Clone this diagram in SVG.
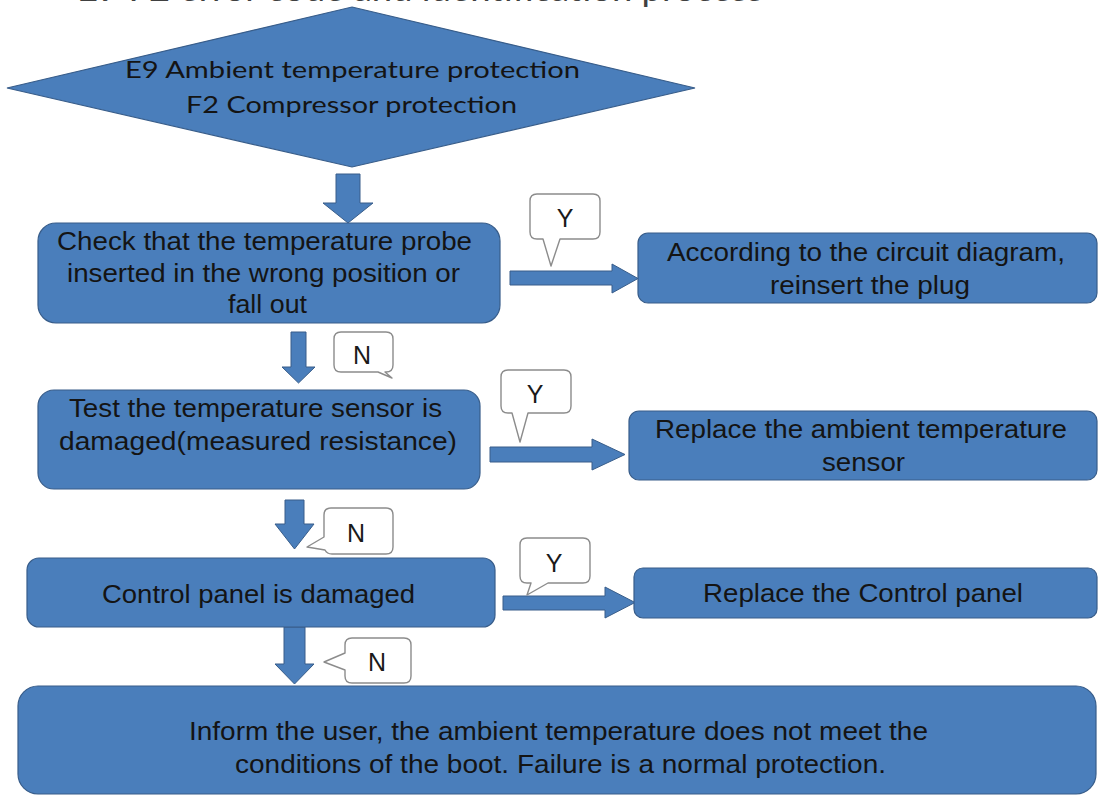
<svg xmlns="http://www.w3.org/2000/svg" width="1098" height="796" viewBox="0 0 1098 796">
  <style>
    .shape { fill: #4a7ebb; stroke: #385d8a; stroke-width: 1.2; }
    .arrow { fill: #4a7ebb; stroke: #385d8a; stroke-width: 1; }
    .bubble { fill: #ffffff; stroke: #8c8c8c; stroke-width: 1.4; stroke-linejoin: round; }
    .lbl { font-family: "Liberation Sans", Arial, sans-serif; font-size: 25px; fill: #141414; }
    .tall { font-family: "Liberation Sans", Arial, sans-serif; font-size: 26px; fill: #141414; }
    .cal { font-family: Lato, "Liberation Sans", sans-serif; font-size: 24px; fill: #141414; }
    .yn { font-family: "Liberation Sans", Arial, sans-serif; font-size: 25px; fill: #1a1a1a; text-anchor: middle; }
    .title { font-family: Lato, "Liberation Sans", sans-serif; font-size: 32px; fill: #404040; }
  </style>

  <rect width="1098" height="796" fill="#ffffff"/>

  <!-- heading (runs off the top edge) -->
  <text class="title" x="77" y="1" textLength="686" lengthAdjust="spacingAndGlyphs">E9 F2 error code and identification process</text>

  <!-- connectors -->
  <g id="connectors">
    <polygon class="arrow" points="336,174 360,174 360,203 373,203 348,223 323,203 336,203"/>
    <polygon class="arrow" points="291,332 306,332 306,367 315,367 298.5,383 282,367 291,367"/>
    <polygon class="arrow" points="285,500 304,500 304,524 314,524 294.5,549 275,524 285,524"/>
    <polygon class="arrow" points="284,627 305,627 305,664 314,664 294.5,684 275,664 284,664"/>
    <polygon class="arrow" points="510,271 612,271 612,264 638,278.5 612,293 612,285 510,285"/>
    <polygon class="arrow" points="490,447 592,447 592,439 625,454.5 592,470 592,462 490,462"/>
    <polygon class="arrow" points="503,596 605,596 605,587 635,602.5 605,618 605,610 503,610"/>

    <path class="bubble" d="M537,194 H593 Q600,194 600,201 V232 Q600,239 593,239 H560 L551,266 L543,239 H537 Q530,239 530,232 V201 Q530,194 537,194 Z"/>
    <text class="yn" x="565" y="227">Y</text>

    <path class="bubble" d="M341,332 H386 Q393,332 393,339 V365 Q393,372 386,372 H385 L392,378 L378,372 H341 Q334,372 334,365 V339 Q334,332 341,332 Z"/>
    <text class="yn" x="362" y="364">N</text>

    <path class="bubble" d="M508,370 H564 Q571,370 571,377 V406 Q571,413 564,413 H528 L520,442 L512,413 H508 Q501,413 501,406 V377 Q501,370 508,370 Z"/>
    <text class="yn" x="535" y="403">Y</text>

    <path class="bubble" d="M331,508 H386 Q393,508 393,515 V547 Q393,554 386,554 H332 Q327,554 325,550 L307,547 L324,537 V515 Q324,508 331,508 Z"/>
    <text class="yn" x="356" y="542">N</text>

    <path class="bubble" d="M527,538 H583 Q590,538 590,545 V576 Q590,583 583,583 H548 L527,595 L531,583 H527 Q520,583 520,576 V545 Q520,538 527,538 Z"/>
    <text class="yn" x="554" y="572">Y</text>

    <path class="bubble" d="M352,638 H404 Q411,638 411,645 V676 Q411,683 404,683 H352 Q345,683 345,676 V670 L324,662 L345,653 V645 Q345,638 352,638 Z"/>
    <text class="yn" x="377" y="671">N</text>
  </g>

  <!-- start: fault codes -->
  <g id="node-codes">
    <polygon class="shape" points="352,7 695,88 352,167 7,88"/>
    <text class="cal" x="125" y="78" textLength="455" lengthAdjust="spacingAndGlyphs">E9 Ambient temperature protection</text>
    <text class="cal" x="186" y="113" textLength="331" lengthAdjust="spacingAndGlyphs">F2 Compressor protection</text>
  </g>

  <g id="node-probe">
    <rect class="shape" x="38" y="223" width="462" height="100" rx="18"/>
    <text class="lbl" x="57" y="250" textLength="415" lengthAdjust="spacingAndGlyphs">Check that the temperature probe</text>
    <text class="lbl" x="67" y="282" textLength="393" lengthAdjust="spacingAndGlyphs">inserted in the wrong position or</text>
    <text class="lbl" x="228" y="313" textLength="79" lengthAdjust="spacingAndGlyphs">fall out</text>
  </g>

  <g id="node-reinsert">
    <rect class="shape" x="638" y="233" width="459" height="70" rx="10"/>
    <text class="lbl" x="667" y="261" textLength="398" lengthAdjust="spacingAndGlyphs">According to the circuit diagram,</text>
    <text class="lbl" x="770" y="294" textLength="200" lengthAdjust="spacingAndGlyphs">reinsert the plug</text>
  </g>

  <g id="node-sensor-test">
    <rect class="shape" x="38" y="390" width="442" height="99" rx="16"/>
    <text class="tall" x="69" y="417" textLength="373" lengthAdjust="spacingAndGlyphs">Test the temperature sensor is</text>
    <text class="tall" x="59" y="450" textLength="398" lengthAdjust="spacingAndGlyphs">damaged(measured resistance)</text>
  </g>

  <g id="node-replace-sensor">
    <rect class="shape" x="629" y="411" width="468" height="69" rx="10"/>
    <text class="lbl" x="655" y="438" textLength="412" lengthAdjust="spacingAndGlyphs">Replace the ambient temperature</text>
    <text class="lbl" x="822" y="471" textLength="83" lengthAdjust="spacingAndGlyphs">sensor</text>
  </g>

  <g id="node-panel-check">
    <rect class="shape" x="27" y="558" width="468" height="69" rx="12"/>
    <text class="tall" x="102" y="603" textLength="313" lengthAdjust="spacingAndGlyphs">Control panel is damaged</text>
  </g>

  <g id="node-replace-panel">
    <rect class="shape" x="634" y="568" width="463" height="50" rx="9"/>
    <text class="lbl" x="703" y="602" textLength="320" lengthAdjust="spacingAndGlyphs">Replace the Control panel</text>
  </g>

  <g id="node-inform">
    <rect class="shape" x="18" y="686" width="1078" height="108" rx="20"/>
    <text class="tall" x="189" y="740" textLength="739" lengthAdjust="spacingAndGlyphs">Inform the user, the ambient temperature does not meet the</text>
    <text class="tall" x="235" y="773" textLength="651" lengthAdjust="spacingAndGlyphs">conditions of the boot. Failure is a normal protection.</text>
  </g>
</svg>
